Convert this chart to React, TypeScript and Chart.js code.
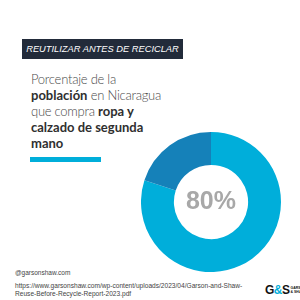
import React, { useEffect, useRef } from "react";
import { Chart, registerables } from "chart.js";

Chart.register(...registerables);

const categories = ["Compra ropa y calzado de segunda mano", "Resto"];
const values = [80, 20];
const colors = ["#00AEDA", "#1581B9"];
const centerLabel = "80%";
const bannerText = "REUTILIZAR ANTES DE RECICLAR";
const handle = "@garsonshaw.com";
const sourceLines = [
  "https://www.garsonshaw.com/wp-content/uploads/2023/04/Garson-and-Shaw-",
  "Reuse-Before-Recycle-Report-2023.pdf",
];

export default function App() {
  const canvasRef = useRef<HTMLCanvasElement | null>(null);

  useEffect(() => {
    document.body.style.margin = "0";
    const ctx = canvasRef.current;
    if (!ctx) return;
    const chart = new Chart(ctx, {
      type: "doughnut",
      data: {
        labels: categories,
        datasets: [
          {
            data: values,
            backgroundColor: colors,
            borderWidth: 0,
          },
        ],
      },
      options: {
        responsive: false,
        animation: false,
        cutout: "53%",
        rotation: 0,
        layout: { padding: 0 },
        plugins: {
          legend: { display: false },
          tooltip: { enabled: false },
        },
      },
    });
    return () => chart.destroy();
  }, []);

  const font = "Lato, 'Open Sans', sans-serif";
  const bold = { fontWeight: 700, color: "#2f2f2f", letterSpacing: 0 };

  return (
    <div
      style={{
        position: "fixed",
        left: 0,
        top: 0,
        width: 300,
        height: 300,
        background: "#ffffff",
        overflow: "hidden",
        fontFamily: font,
      }}
    >
      <div
        style={{
          position: "absolute",
          left: 22,
          top: 39,
          width: 161,
          height: 20,
          background: "#222B3A",
          color: "#ffffff",
          fontFamily: "'Liberation Sans', Arial, sans-serif",
          fontStyle: "italic",
          fontWeight: 400,
          fontSize: 9.3,
          lineHeight: "20px",
          textAlign: "center",
          whiteSpace: "nowrap",
        }}
      >
        {bannerText}
      </div>
      <div
        style={{
          position: "absolute",
          left: 31,
          top: 71,
          width: 170,
          fontSize: 13,
          lineHeight: "16px",
          color: "#4a4a4a",
          fontWeight: 300,
          letterSpacing: -0.25,
          whiteSpace: "nowrap",
        }}
      >
        Porcentaje de la
        <br />
        <b style={bold}>población</b> en Nicaragua
        <br />
        que compra <b style={bold}>ropa y</b>
        <br />
        <b style={bold}>calzado de segunda</b>
        <br />
        <b style={bold}>mano</b>
      </div>
      <div
        style={{
          position: "absolute",
          left: 30,
          top: 157,
          width: 71,
          height: 5,
          background: "#00AEDA",
        }}
      />
      <canvas
        ref={canvasRef}
        width={140}
        height={140}
        style={{ position: "absolute", left: 141, top: 132, width: 140, height: 140 }}
      />
      <div
        style={{
          position: "absolute",
          left: 171,
          top: 185,
          width: 80,
          textAlign: "center",
          fontFamily: "'Liberation Sans', Arial, sans-serif",
          fontWeight: 700,
          fontSize: 25,
          lineHeight: "30px",
          color: "#A8A8A8",
        }}
      >
        {centerLabel}
      </div>
      <div
        style={{
          position: "absolute",
          left: 15,
          top: 269,
          fontSize: 6.5,
          lineHeight: "8px",
          color: "#444",
          fontFamily: "'Liberation Sans', Arial, sans-serif",
        }}
      >
        {handle}
      </div>
      <div
        style={{
          position: "absolute",
          left: 15,
          top: 282,
          fontSize: 6.6,
          lineHeight: "8px",
          color: "#444",
          fontFamily: "'Liberation Sans', Arial, sans-serif",
          whiteSpace: "nowrap",
        }}
      >
        {sourceLines[0]}
        <br />
        {sourceLines[1]}
      </div>
      <div
        style={{
          position: "absolute",
          left: 265,
          top: 283,
          display: "flex",
          alignItems: "center",
          fontFamily: "'Liberation Sans', Arial, sans-serif",
        }}
      >
        <span style={{ fontWeight: 900, fontSize: 12, color: "#111", letterSpacing: -0.5 }}>
          G<span style={{ color: "#00AEDA" }}>&amp;</span>S
        </span>
        <span
          style={{
            fontSize: 3.5,
            lineHeight: "4px",
            fontWeight: 700,
            color: "#111",
            marginLeft: 1,
          }}
        >
          GARSON
          <br />
          &amp; SHAW
        </span>
      </div>
    </div>
  );
}
